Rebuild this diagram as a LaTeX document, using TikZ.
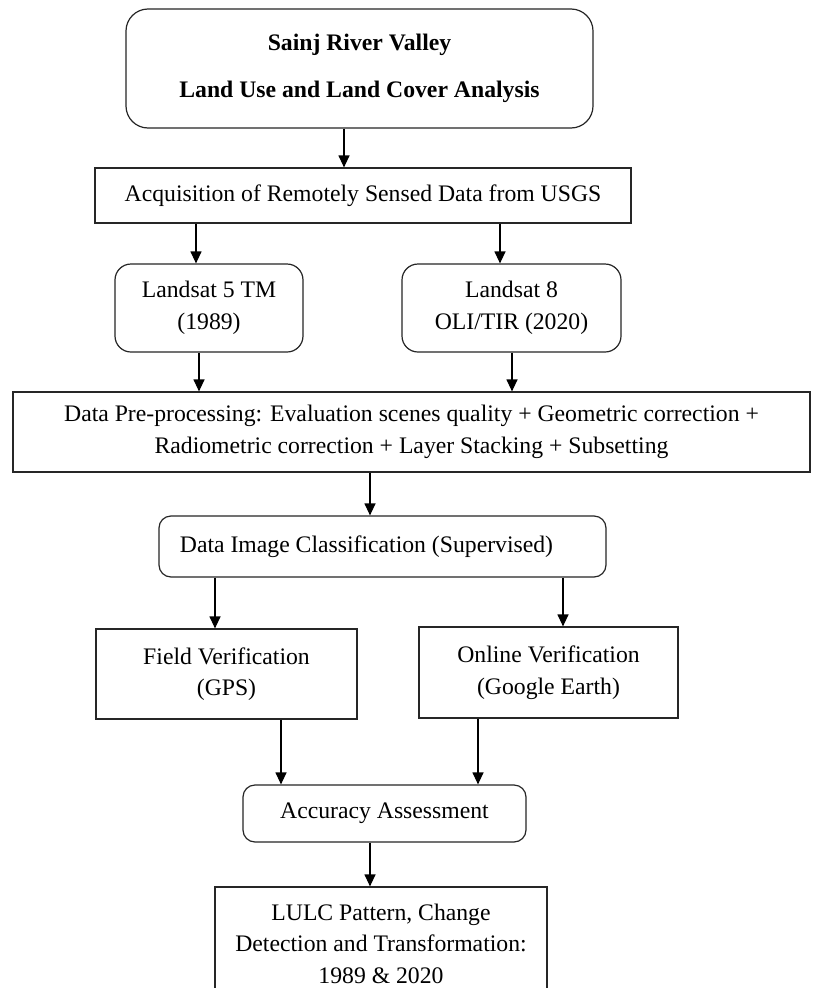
\documentclass[tikz,border=0pt]{standalone}
\usepackage{fontspec}
\setmainfont{Liberation Serif}
\usetikzlibrary{arrows.meta}
\begin{document}
\begin{tikzpicture}[x=1pt,y=-1pt,
  box/.style={draw=black!85, line width=1.2pt, inner sep=0pt, align=center,
    font=\fontsize{23.7}{31.5}\selectfont},
  rbox/.style={box, rounded corners=#1},
  arr/.style={draw=black, line width=1.2pt, -{Triangle[length=12pt,width=11pt]}}]
\useasboundingbox (0,0) rectangle (812,988);
\clip (0,0) rectangle (812,988);
\fill[white] (0,0) rectangle (812,988);

% nodes
\node[rbox=22pt, minimum width=467pt, minimum height=119pt] (top) at (359.5,68.5)
  {\bfseries Sainj River Valley\\[16pt]\bfseries Land Use and Land Cover Analysis};
\node[box, minimum width=536pt, minimum height=55pt] (acq) at (363,195.5)
  {Acquisition of Remotely Sensed Data from USGS};
\node[rbox=16pt, minimum width=188pt, minimum height=88pt] (l5) at (209,308)
  {Landsat 5 TM\\(1989)};
\node[rbox=16pt, minimum width=219pt, minimum height=88pt] (l8) at (511.5,308)
  {Landsat 8\\OLI/TIR (2020)};
\node[box, minimum width=797pt, minimum height=80pt] (pre) at (411.5,432)
  {Data Pre-processing: Evaluation scenes quality + Geometric correction +\\
   Radiometric correction + Layer Stacking + Subsetting};
\node[rbox=12pt, minimum width=447pt, minimum height=61pt] (cls) at (382.5,546.5)
  {\hspace*{-32pt}Data Image Classification (Supervised)};
\node[box, minimum width=261pt, minimum height=90pt] (field) at (226.5,674)
  {Field Verification\\(GPS)};
\node[box, minimum width=259pt, minimum height=91pt] (online) at (548.5,672.5)
  {Online Verification\\(Google Earth)};
\node[rbox=12pt, minimum width=283pt, minimum height=57pt] (acc) at (384.5,813.5)
  {Accuracy Assessment};
\node[box, minimum width=332pt, minimum height=113pt] (lulc) at (381,943.5)
  {LULC Pattern, Change\\Detection and Transformation:\\1989 \& 2020};

% arrow x positions
\coordinate (xa) at (344,0);
\coordinate (xb) at (196,0);
\coordinate (xc) at (500,0);
\coordinate (xd) at (199,0);
\coordinate (xe) at (512,0);
\coordinate (xf) at (370,0);
\coordinate (xg) at (215,0);
\coordinate (xh) at (563,0);
\coordinate (xi) at (281,0);
\coordinate (xj) at (478,0);

\draw[arr] (top.south -| xa) -- (acq.north -| xa);
\draw[arr] (acq.south -| xb) -- (l5.north -| xb);
\draw[arr] (acq.south -| xc) -- (l8.north -| xc);
\draw[arr] (l5.south -| xd) -- (pre.north -| xd);
\draw[arr] (l8.south -| xe) -- (pre.north -| xe);
\draw[arr] (pre.south -| xf) -- (cls.north -| xf);
\draw[arr] (cls.south -| xg) -- (field.north -| xg);
\draw[arr] (cls.south -| xh) -- (online.north -| xh);
\draw[arr] (field.south -| xi) -- (acc.north -| xi);
\draw[arr] (online.south -| xj) -- (acc.north -| xj);
\draw[arr] (acc.south -| xf) -- (lulc.north -| xf);
\end{tikzpicture}
\end{document}
